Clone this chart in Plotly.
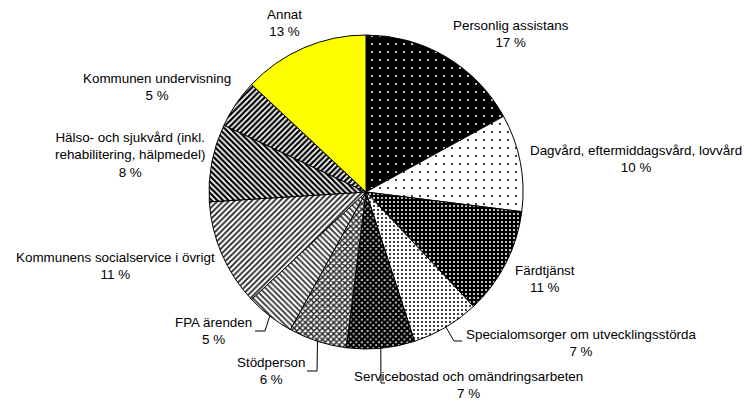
import math
import plotly.graph_objects as go

# ---- data ----
categories = [
    "Personlig assistans",
    "Dagvård, eftermiddagsvård, lovvård",
    "Färdtjänst",
    "Specialomsorger om utvecklingsstörda",
    "Servicebostad och omändringsarbeten",
    "Stödperson",
    "FPA ärenden",
    "Kommunens socialservice i övrigt",
    "Hälso- och sjukvård (inkl.<br>rehabilitering, hälpmedel)",
    "Kommunen undervisning",
    "Annat",
]
values = [17, 10, 11, 7, 7, 6, 5, 11, 8, 5, 13]

# ---- styles ----
W, H = 745, 400
CX, CY, R = 366, 192, 157  # pie centre / radius in px

shapes_p = [".", ".", ".", ".", "x", "x", "\\", "/", "\\", "/", ""]
bg = ["black", "white", "black", "white", "white", "white", "white", "white", "white", "white", "#FFFF00"]
fg = ["white", "black", "white", "black", "black", "#202020", "#303030", "#202020", "black", "black", "black"]
psize = [8, 8, 4, 4, 4, 4, 4, 4, 4, 4, 4]
psol = [0.05, 0.05, 0.2, 0.2, 0.85, 0.6, 0.45, 0.45, 0.55, 0.55, 0.3]

# label block centres (px) and leader elbows/ends (px) – layout only
label_pos = [(511, 34), (636, 159), (545, 279), (581, 343), (468, 385),
             (271, 371), (213, 331), (115, 266), (130, 155), (157, 87), (284, 23)]
leaders = {3: [(454, 341), (462, 341)],
           4: [(381, 383), (385, 383)],
           5: [(317, 371), (307, 371)],
           6: [(265, 331), (255, 331)]}

fig = go.Figure(go.Pie(
    labels=categories, values=values, sort=False, direction="clockwise", rotation=0,
    textinfo="none", hoverinfo="label+percent", showlegend=False,
    marker=dict(colors=bg, line=dict(color="black", width=1),
                pattern=dict(shape=shapes_p, bgcolor=bg, fgcolor=fg, size=psize,
                             solidity=psol, fillmode="replace")),
    domain=dict(x=[(CX - R) / W, (CX + R) / W], y=[1 - (CY + R) / H, 1 - (CY - R) / H]),
))

def px2paper(x, y):
    return x / W, 1 - y / H

annotations = []
for i, (name, v) in enumerate(zip(categories, values)):
    lx, ly = label_pos[i]
    ax, ay = px2paper(lx, ly)
    annotations.append(dict(x=ax, y=ay, xref="paper", yref="paper", showarrow=False,
                            text=f"{name}<br>{v} %", align="center",
                            xanchor="center", yanchor="middle",
                            font=dict(family="Liberation Sans, Arial", size=13.4, color="black")))

total = sum(values)
cum = 0
mids = []
for v in values:
    mids.append((cum + v / 2) / total * 2 * math.pi)
    cum += v

shape_list = []
for i, pts in leaders.items():
    th = mids[i]
    ex, ey = CX + R * math.sin(th), CY - R * math.cos(th)
    allp = [(ex, ey)] + pts
    path = "M " + " L ".join(f"{px2paper(x, y)[0]},{px2paper(x, y)[1]}" for x, y in allp)
    shape_list.append(dict(type="path", path=path, xref="paper", yref="paper",
                           line=dict(color="black", width=1)))

fig.update_layout(width=W, height=H, margin=dict(l=0, r=0, t=0, b=0),
                  paper_bgcolor="white", plot_bgcolor="white",
                  annotations=annotations, shapes=shape_list)
fig.write_html("out.html", config={"displayModeBar": False},
               post_script="document.body.style.margin='0px';document.body.style.overflow='hidden';")
